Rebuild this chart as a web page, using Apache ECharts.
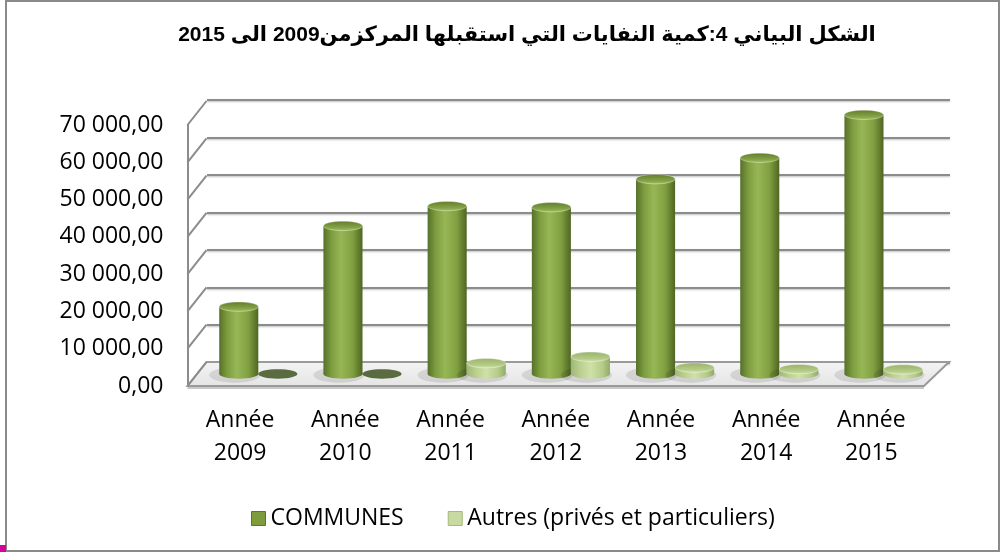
<!DOCTYPE html>
<html>
<head>
<meta charset="utf-8">
<script src="https://cdn.jsdelivr.net/npm/echarts@6/dist/echarts.min.js"></script>
<style>
html, body { margin: 0; padding: 0; background: #fff; }
#main { width: 1005px; height: 554px; }
</style>
</head>
<body>
<div id="main"></div>
<script>
// data
var categories = ['Année\n2009', 'Année\n2010', 'Année\n2011', 'Année\n2012', 'Année\n2013', 'Année\n2014', 'Année\n2015'];
var communes = [18000, 39600, 44900, 44600, 52100, 57800, 69300];
var autres = [0, 0, 2900, 4600, 1700, 1300, 1200];
var yTicks = [0, 10000, 20000, 30000, 40000, 50000, 60000, 70000];
var yTickLabels = ['0,00', '10 000,00', '20 000,00', '30 000,00', '40 000,00', '50 000,00', '60 000,00', '70 000,00'];

var titleText = 'الشكل البياني 4:كمية النفايات التي استقبلها المركزمن2009 الى 2015';
var seriesNames = ['COMMUNES', 'Autres (privés et particuliers)'];

var LG = echarts.graphic.LinearGradient;
var myChart = echarts.init(document.getElementById('main'));

// 3d cylinder look for one series (side = -1 left slot, +1 right slot)
function cylinder(side, bodyStops, topStops, zeroColor) {
    return function (params, api) {
        var i = api.value(0), v = api.value(1);
        var base = api.coord([i, 0]);
        var top = api.coord([i, v]);
        var bw = api.size([1, 0])[0] * 0.375;
        var cx = base[0] + side * bw / 2;
        var ry = bw * 0.12;
        if (v <= 0) {
            return {
                type: 'ellipse',
                shape: { cx: cx, cy: base[1], rx: bw / 2, ry: ry },
                style: { fill: zeroColor }
            };
        }
        return {
            type: 'group',
            children: [
                { type: 'ellipse', shape: { cx: cx - 4, cy: base[1] + 1, rx: bw / 2 + 6, ry: ry + 3 },
                  style: { fill: 'rgba(0,0,0,0.10)' } },
                { type: 'ellipse', shape: { cx: cx, cy: base[1], rx: bw / 2, ry: ry },
                  style: { fill: new LG(0, 0, 1, 0, bodyStops) } },
                { type: 'rect', shape: { x: cx - bw / 2, y: top[1], width: bw, height: base[1] - top[1] },
                  style: { fill: new LG(0, 0, 1, 0, bodyStops) } },
                { type: 'ellipse', shape: { cx: cx, cy: top[1], rx: bw / 2, ry: ry },
                  style: { fill: new LG(0, 0, 0, 1, topStops), stroke: 'rgba(255,255,255,0.35)', lineWidth: 1 } }
            ]
        };
    };
}

var option = {
    backgroundColor: '#fff',
    animation: false,
    legend: {
        data: [
            { name: seriesNames[0], itemStyle: { color: '#7d9d3d', borderColor: '#5c7628', borderWidth: 1 } },
            { name: seriesNames[1], itemStyle: { color: '#c8daa2', borderColor: '#a3bb76', borderWidth: 1 } }
        ],
        left: 246,
        top: 502,
        icon: 'rect',
        itemWidth: 14,
        itemHeight: 14,
        itemGap: 44,
        textStyle: { fontFamily: 'Open Sans', fontSize: 23, color: '#000' }
    },
    grid: [
        // middle depth plane: bars
        { left: 206.2, right: 69.4, top: 74.8, bottom: 180, outerBoundsMode: 'none' },
        // front plane: axis labels, left wall edge, floor
        { left: 187.5, right: 81, top: 125, bottom: 168, outerBoundsMode: 'none' },
        // back wall: gridlines
        { left: 207, right: 55, top: 100, bottom: 191.5, outerBoundsMode: 'none' }
    ],
    xAxis: [
        { gridIndex: 0, type: 'category', data: categories, show: false },
        {
            gridIndex: 1, type: 'category', data: categories,
            axisLine: { show: false }, axisTick: { show: false },
            axisLabel: { margin: 18, lineHeight: 33, fontFamily: 'Open Sans', fontSize: 23, color: '#000', interval: 0 }
        },
        { gridIndex: 2, type: 'value', show: false, min: 0, max: 1 }
    ],
    yAxis: [
        { gridIndex: 0, type: 'value', min: 0, max: 80000, show: false },
        {
            gridIndex: 1, type: 'value', min: 0, max: 70000, interval: 10000,
            axisLine: { show: true, lineStyle: { color: '#8c8c8c', width: 2 } },
            axisTick: { show: false },
            splitLine: { show: false },
            axisLabel: {
                margin: 24, fontFamily: 'Open Sans', fontSize: 23, color: '#000',
                formatter: function (v) { return yTickLabels[yTicks.indexOf(v)]; }
            }
        },
        {
            gridIndex: 2, type: 'value', min: 0, max: 70000, interval: 10000,
            axisLine: { show: false }, axisTick: { show: false }, axisLabel: { show: false },
            splitLine: { show: true, lineStyle: { color: '#8c8c8c', width: 2, shadowColor: 'rgba(0,0,0,0.25)', shadowBlur: 2, shadowOffsetY: 1 } }
        }
    ],
    series: [
        {
            // left wall diagonals and floor
            type: 'custom',
            xAxisIndex: 1,
            yAxisIndex: 1,
            silent: true,
            z: 1,
            data: yTicks.map(function (v) { return [0, v]; }),
            encode: { x: 0, y: 1 },
            renderItem: function (params, api) {
                var cs = params.coordSys;
                var y = api.coord([0, api.value(1)])[1];
                var grey = { stroke: '#8c8c8c', lineWidth: 2 };
                var kids = [{ type: 'line', shape: { x1: cs.x, y1: y, x2: cs.x + 19, y2: y - 24 }, style: grey }];
                if (api.value(1) === 0) {
                    var xr = cs.x + cs.width;
                    kids.unshift({
                        type: 'polygon',
                        shape: { points: [[cs.x, y], [xr, y], [xr + 25, y - 24], [cs.x + 19, y - 24]] },
                        style: { fill: new LG(0, 0, 0, 1, [{ offset: 0, color: '#f4f4f4' }, { offset: 1, color: '#e4e4e4' }]), stroke: '#9a9a9a', lineWidth: 2 }
                    });
                    kids.push({ type: 'line', shape: { x1: cs.x, y1: y + 2, x2: xr, y2: y + 2 }, style: { stroke: '#c8c8c8', lineWidth: 2 } });
                }
                return { type: 'group', children: kids };
            }
        },
        {
            name: seriesNames[0],
            type: 'custom',
            xAxisIndex: 0,
            yAxisIndex: 0,
            z: 3,
            itemStyle: { color: '#77933c' },
            data: communes.map(function (v, i) { return [i, v]; }),
            encode: { x: 0, y: 1 },
            renderItem: cylinder(-1,
                [{ offset: 0, color: '#56702a' }, { offset: 0.2, color: '#7c9c3e' }, { offset: 0.45, color: '#97b757' },
                 { offset: 0.75, color: '#809f40' }, { offset: 1, color: '#4e6622' }],
                [{ offset: 0, color: '#5f7a2c' }, { offset: 0.7, color: '#86a646' }, { offset: 1, color: '#a7c56a' }],
                '#5b6b40')
        },
        {
            name: seriesNames[1],
            type: 'custom',
            xAxisIndex: 0,
            yAxisIndex: 0,
            z: 3,
            itemStyle: { color: '#c3d69b' },
            data: autres.map(function (v, i) { return [i, v]; }),
            encode: { x: 0, y: 1 },
            renderItem: cylinder(1,
                [{ offset: 0, color: '#9fb775' }, { offset: 0.25, color: '#bcd190' }, { offset: 0.5, color: '#cfe0a9' },
                 { offset: 0.8, color: '#b6cc8a' }, { offset: 1, color: '#93ab68' }],
                [{ offset: 0, color: '#98b16a' }, { offset: 0.7, color: '#b5cc88' }, { offset: 1, color: '#d3e3b0' }],
                '#5b6b40')
        }
    ],
    graphic: [
        { type: 'rect', shape: { x: 6, y: 1, width: 993, height: 550 }, style: { fill: 'none', stroke: '#8a8a8a', lineWidth: 2 }, silent: true, z: -10 },
        { type: 'rect', shape: { x: 0, y: 545, width: 6, height: 7 }, style: { fill: '#d6009f' }, silent: true },
        {
            type: 'text', x: 527, y: 35, silent: true,
            style: {
                text: titleText, textAlign: 'center', textVerticalAlign: 'middle', fill: '#000',
                font: 'bold 21px "Liberation Sans", Arial, "DejaVu Sans"'
            }
        }
    ]
};

myChart.setOption(option);
</script>
</body>
</html>
